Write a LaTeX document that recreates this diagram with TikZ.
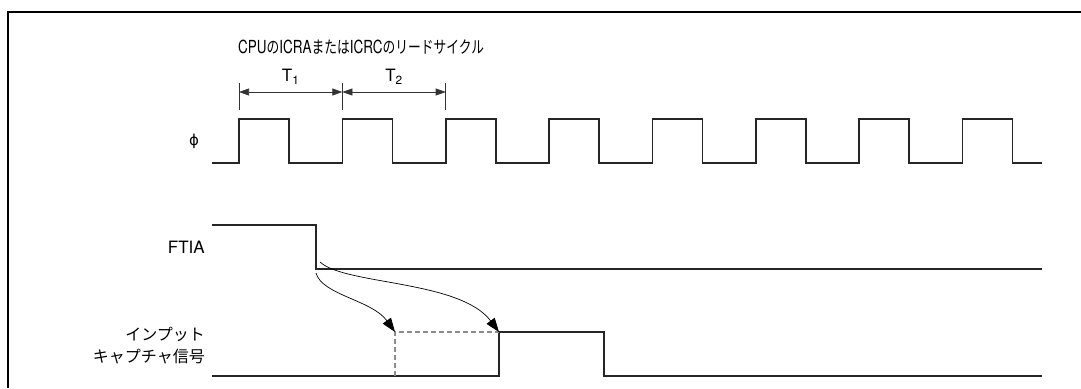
\documentclass[tikz,border=0pt]{standalone}
\usepackage{fontspec}
\setmainfont{TeX Gyre Heros}
\newfontfamily\jp{Noto Sans CJK JP}
\newfontfamily\sym{DejaVu Sans}
\usetikzlibrary{arrows.meta, calc}

\tikzset{
    wave/.style={line width=1.6pt, black!85, line join=miter},
    dimline/.style={line width=0.6pt, black!80},
    dimtip/.style={{Triangle[length=10pt,width=7pt]}-{Triangle[length=10pt,width=7pt]}},
    lbl/.style={font=\fontsize{17}{21}\selectfont, inner sep=0pt},
    jlbl/.style={font=\fontsize{16}{22}\selectfont\jp, inner sep=0pt},
    cause/.style={line width=0.7pt, -{Triangle[length=14pt, width=10pt]}},
}

\begin{document}
\begin{tikzpicture}[x=1pt, y=-1pt]
            \useasboundingbox (0,0) rectangle (1081,388);
            \draw[line width=2pt] (8,388) -- (8,12) -- (1081,12);

            % clock
            \draw[wave] (212,163) foreach \k in {0,...,7} {
                -- ({239+103.35*\k},163) -- ({239+103.35*\k},119)
                -- ({289+103.35*\k},119) -- ({289+103.35*\k},163)
            } -- (1042,163);

            \coordinate (t0) at (239,92);
            \coordinate (t1) at (342.35,92);
            \coordinate (t2) at (445.7,92);
            \foreach \t in {t0,t1,t2}
                \draw[dimline] ($(\t)+(0,-9)$) -- ($(\t)+(0,18)$);
            \draw[dimline, dimtip] (t0) -- (t1);
            \draw[dimline, dimtip] (t1) -- (t2);

            \node[lbl, anchor=west, xscale=0.75, font=\fontsize{18}{22}\selectfont] (title) at (238,47)
                {CPU{\jp\fontsize{17}{20}\selectfont の}ICRA{\jp\fontsize{17}{20}\selectfont または}ICRC{\jp\fontsize{17}{20}\selectfont のリードサイクル}};
            \node[lbl] (T1) at ($(t0)!0.5!(t1)+(0,-15)$) {T\textsubscript{1}};
            \node[lbl] (T2) at ($(t1)!0.5!(t2)+(0,-15)$) {T\textsubscript{2}};

            % FTIA
            \coordinate (fhi) at (316,225);
            \coordinate (flo) at (316,269);
            \draw[wave] (212,225) -- (fhi) -- (flo) -- (1042,269);

            % input capture
            \coordinate (cup) at (499,332);
            \coordinate (cdn) at (604,332);
            \coordinate (dash) at (395,332);
            \draw[wave] (212,376) -- (499,376) -- (cup) -- (cdn) -- (604,376) -- (1042,376);
            \draw[line width=1.1pt, black!45, dash pattern=on 5pt off 3pt] (395,376) -- (dash) -- (cup);

            \node[lbl, anchor=center, font=\fontsize{15}{18}\selectfont\sym] (phi) at (194,141) {ϕ};
            \node[lbl, anchor=east] (ftia) at (205,247) {FTIA};
            \node[jlbl, anchor=east, align=right] (capt) at (205,346) {インプット\\キャプチャ信号};

            \draw[cause] ($(flo)+(0,4)$) .. controls (322,295) and (372,300) .. (dash);
            \draw[cause] ($(flo)+(4,-7)$) .. controls (345,285) and (460,280) .. (cup);
\end{tikzpicture}
\end{document}
